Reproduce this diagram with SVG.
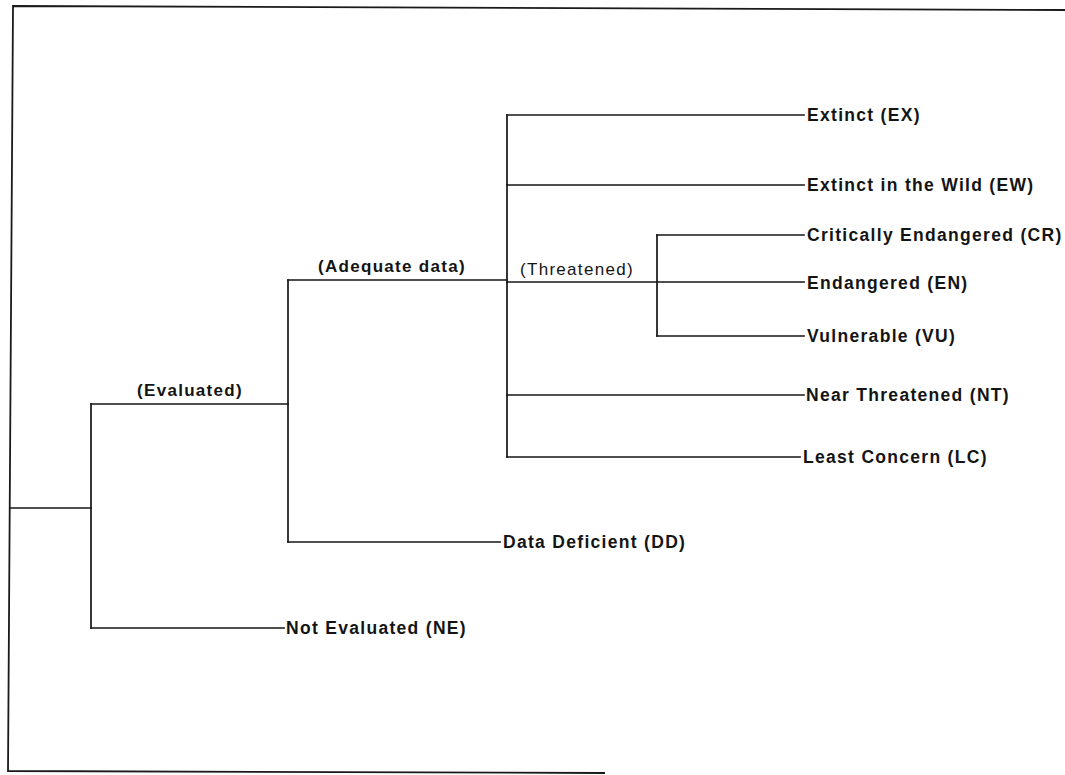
<svg xmlns="http://www.w3.org/2000/svg" width="1065" height="775" viewBox="0 0 1065 775">
  <style>
    .frame { fill: none; stroke: #1a1a1a; stroke-width: 1.8; }
    .edge { fill: none; stroke: #141414; stroke-width: 1.7; stroke-linecap: square; }
    .lbl { font-family: "Liberation Sans", Arial, sans-serif; font-size: 17.5px; font-weight: bold; letter-spacing: 1.3px; fill: #141414; }
    .branch { font-family: "Liberation Sans", Arial, sans-serif; font-size: 17px; font-weight: bold; letter-spacing: 1.3px; fill: #141414; text-anchor: middle; }
    .thin { font-weight: normal; text-anchor: start; }
  </style>
  <rect width="1065" height="775" fill="#ffffff"/>

  <!-- open page border: top, left and part of the bottom edge -->
  <polyline class="frame" points="1065,10 13,6 8,771 605,773"/>

  <!-- tree connectors -->
  <g id="connectors">
    <!-- root -->
    <path class="edge" d="M10,508 H91"/>
    <path class="edge" d="M91,404 V628"/>
    <!-- evaluated / not evaluated -->
    <path class="edge" d="M91,404 H288"/>
    <path class="edge" d="M91,628 H284"/>
    <!-- adequate data / data deficient -->
    <path class="edge" d="M288,280 V542"/>
    <path class="edge" d="M288,280 H507"/>
    <path class="edge" d="M288,542 H500"/>
    <!-- assessed categories -->
    <path class="edge" d="M507,115 V457"/>
    <path class="edge" d="M507,115 H804"/>
    <path class="edge" d="M507,185 H804"/>
    <path class="edge" d="M507,282 H804"/>
    <path class="edge" d="M507,395 H804"/>
    <path class="edge" d="M507,457 H800"/>
    <!-- threatened sub-branch -->
    <path class="edge" d="M657,235 V336"/>
    <path class="edge" d="M657,235 H804"/>
    <path class="edge" d="M657,336 H804"/>
  </g>

  <!-- branch labels -->
  <g id="evaluated"><text class="branch" x="190" y="396">(Evaluated)</text></g>
  <g id="adequate-data"><text class="branch" x="392" y="272">(Adequate data)</text></g>
  <g id="threatened"><text class="branch thin" x="520" y="275">(Threatened)</text></g>

  <!-- leaf categories -->
  <g id="ex"><text class="lbl" x="807" y="121">Extinct (EX)</text></g>
  <g id="ew"><text class="lbl" x="807" y="191">Extinct in the Wild (EW)</text></g>
  <g id="cr"><text class="lbl" x="807" y="241">Critically Endangered (CR)</text></g>
  <g id="en"><text class="lbl" x="807" y="289">Endangered (EN)</text></g>
  <g id="vu"><text class="lbl" x="807" y="342">Vulnerable (VU)</text></g>
  <g id="nt"><text class="lbl" x="806" y="401">Near Threatened (NT)</text></g>
  <g id="lc"><text class="lbl" x="803" y="463">Least Concern (LC)</text></g>
  <g id="dd"><text class="lbl" x="503" y="548">Data Deficient (DD)</text></g>
  <g id="ne"><text class="lbl" x="286" y="634">Not Evaluated (NE)</text></g>
</svg>
